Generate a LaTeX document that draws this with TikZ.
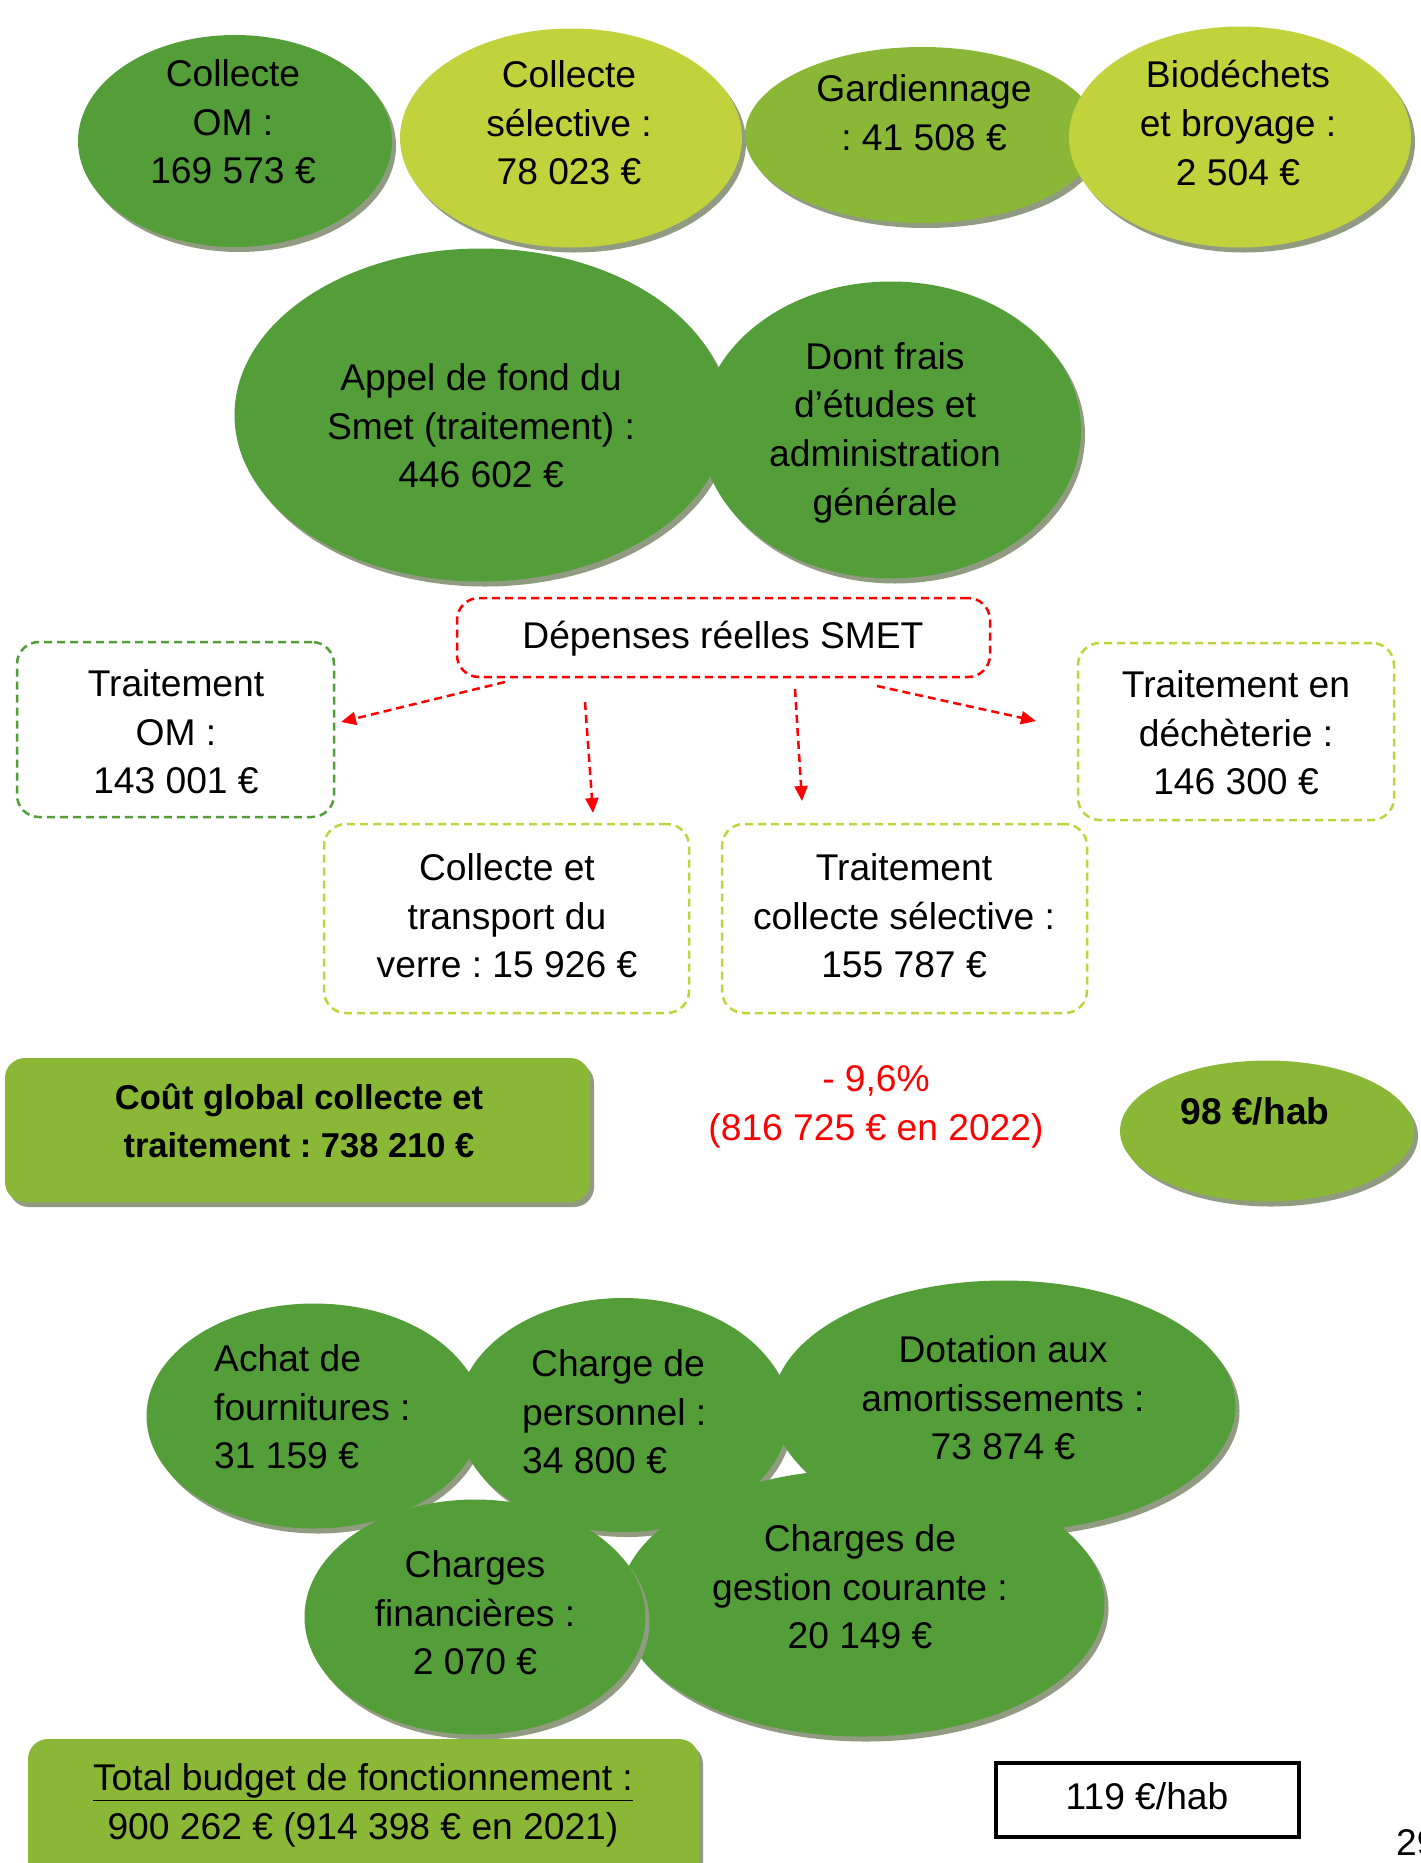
\documentclass[tikz,border=0pt]{standalone}
\usepackage{fontspec}
\setmainfont{Liberation Sans}
\frenchspacing
\usetikzlibrary{shapes.geometric,shadows,arrows.meta}
\definecolor{dkg}{RGB}{84,158,57}
\definecolor{mdg}{RGB}{139,183,55}
\definecolor{ltg}{RGB}{194,210,61}
\definecolor{shd}{RGB}{145,155,130}
\begin{document}
\begin{tikzpicture}[x=1pt,y=-1pt,
  every node/.style={font=\fontsize{37.2}{48.7}\selectfont},
  txt/.style={align=center, inner sep=0pt, execute at begin node=\strut, execute at end node=\strut},
  txtl/.style={align=left, inner sep=0pt, anchor=west, execute at begin node=\strut, execute at end node=\strut},
  blob/.style={ellipse, inner sep=0pt, draw=none, drop shadow={shadow xshift=4pt, shadow yshift=-5pt, fill=shd, opacity=1}},
  dbox/.style={rectangle, rounded corners=22pt, dash pattern=on 8pt off 5pt, line width=2.5pt, inner sep=0pt},
  arr/.style={red, line width=2.5pt, dash pattern=on 8pt off 5pt, -{Triangle[length=15pt,width=13pt]}},
  gbox/.style={rectangle, rounded corners=20pt, inner sep=0pt, drop shadow={shadow xshift=4pt, shadow yshift=-5pt, fill=shd, opacity=1}},
]
\useasboundingbox (0,0) rectangle (1421,1863);
\fill[white] (0,0) rectangle (1421,1863);

% top row
\node[blob, fill=dkg, minimum width=314pt, minimum height=212pt] (com) at (235,141) {};
\node[blob, fill=ltg, minimum width=342pt, minimum height=219pt] (csel) at (571,138) {};
\node[blob, fill=mdg, minimum width=354pt, minimum height=176pt] (gard) at (922,135) {};
\node[blob, fill=ltg, minimum width=342pt, minimum height=221pt] (bio) at (1240,137) {};
\node[txt] (tcom) at (233,129) {Collecte\\OM :\\169 573 €};
\node[txt] (tcsel) at (569,130) {Collecte\\sélective :\\78 023 €};
\node[txt] (tgard) at (924,120) {Gardiennage\\: 41 508 €};
\node[txt] (tbio) at (1238,130) {Biodéchets\\et broyage :\\2 504 €};

% second row
\node[blob, fill=dkg, minimum width=493pt, minimum height=333pt] (appel) at (481,415) {};
\node[blob, fill=dkg, minimum width=380pt, minimum height=297pt] (dont) at (891,430) {};
\node[txt] (tappel) at (481,433) {Appel de fond du\\Smet (traitement) :\\446 602 €};
\node[txt] (tdont) at (885,436) {Dont frais\\d’études et\\administration\\générale};

% SMET boxes
\node[dbox, draw=red, minimum width=533pt, minimum height=79pt] (smet) at (723.5,637.5) {};
\node[txt] (tsmet) at (723,639) {Dépenses réelles SMET};
\node[dbox, draw=dkg, minimum width=317pt, minimum height=175pt] (tom) at (175.5,729.5) {};
\node[txt] (ttom) at (176,739) {Traitement\\OM :\\143 001 €};
\node[dbox, draw=ltg, minimum width=316pt, minimum height=177pt] (tdech) at (1236,731.5) {};
\node[txt] (ttdech) at (1236,740) {Traitement en\\déchèterie :\\146 300 €};
\node[dbox, draw=ltg, minimum width=365pt, minimum height=189pt] (verre) at (506.5,918.5) {};
\node[txt] (tverre) at (507,923) {Collecte et\\transport du\\verre : 15 926 €};
\node[dbox, draw=ltg, minimum width=365pt, minimum height=189pt] (tcs) at (904.5,918.5) {};
\node[txt] (ttcs) at (904,923) {Traitement\\collecte sélective :\\155 787 €};

\coordinate (a1s) at (505,682); \coordinate (a1e) at (341,722);
\coordinate (a2s) at (585,702); \coordinate (a2e) at (593,813);
\coordinate (a3s) at (795,689); \coordinate (a3e) at (802,801);
\coordinate (a4s) at (877,686); \coordinate (a4e) at (1036,721);
\draw[arr] (a1s) -- (a1e);
\draw[arr] (a2s) -- (a2e);
\draw[arr] (a3s) -- (a3e);
\draw[arr] (a4s) -- (a4e);

% cost row
\node[gbox, fill=mdg, minimum width=585pt, minimum height=144pt] (cout) at (297.5,1130) {};
\node[txt, font=\fontsize{34.5}{48.7}\selectfont\bfseries] (tcout) at (299,1128) {Coût global collecte et\\traitement : 738 210 €};
\node[txt, text=red] (var) at (876,1110) {- 9,6\%\\(816 725 € en 2022)};
\node[blob, fill=mdg, minimum width=294pt, minimum height=141pt] (hab) at (1267,1131) {};
\node[txt, font=\fontsize{37.2}{48.7}\selectfont\bfseries] (thab) at (1255,1115) {98 €/hab};

% bottom ellipses
\node[blob, fill=dkg, minimum width=335pt, minimum height=225pt] (achat) at (314,1416) {};
\node[blob, fill=dkg, minimum width=331pt, minimum height=234pt] (pers) at (623,1415) {};
\node[blob, fill=dkg, minimum width=463pt, minimum height=251pt] (dot) at (1004,1406) {};
\node[blob, fill=dkg, minimum width=485pt, minimum height=267pt] (gest) at (862,1603) {};
\node[blob, fill=dkg, minimum width=341pt, minimum height=235pt] (fin) at (475,1617) {};
\node[txtl] (tachat) at (214,1414) {Achat de\\fournitures :\\31 159 €};
\node[txtl] (tpers) at (522,1419) {\hspace*{9pt}Charge de\\personnel :\\34 800 €};
\node[txt] (tdot) at (1003,1405) {Dotation aux\\amortissements :\\73 874 €};
\node[txt] (tgest) at (860,1594) {Charges de\\gestion courante :\\20 149 €};
\node[txt] (tfin) at (475,1620) {Charges\\financières :\\2 070 €};

% totals
\node[gbox, fill=mdg, minimum width=671pt, minimum height=150pt] (total) at (363.5,1814) {};
\node[txt] (ttotal) at (363,1809) {\underline{Total budget de fonctionnement :}\\900 262 € (914 398 € en 2021)};
\node[rectangle, draw=black, line width=4pt, fill=white, minimum width=303pt, minimum height=74pt, inner sep=0pt] (hab2) at (1147.5,1800) {};
\node[txt] (thab2) at (1147,1800) {119 €/hab};
\node[txt, anchor=west] (page) at (1396,1846) {29};
\end{tikzpicture}
\end{document}
